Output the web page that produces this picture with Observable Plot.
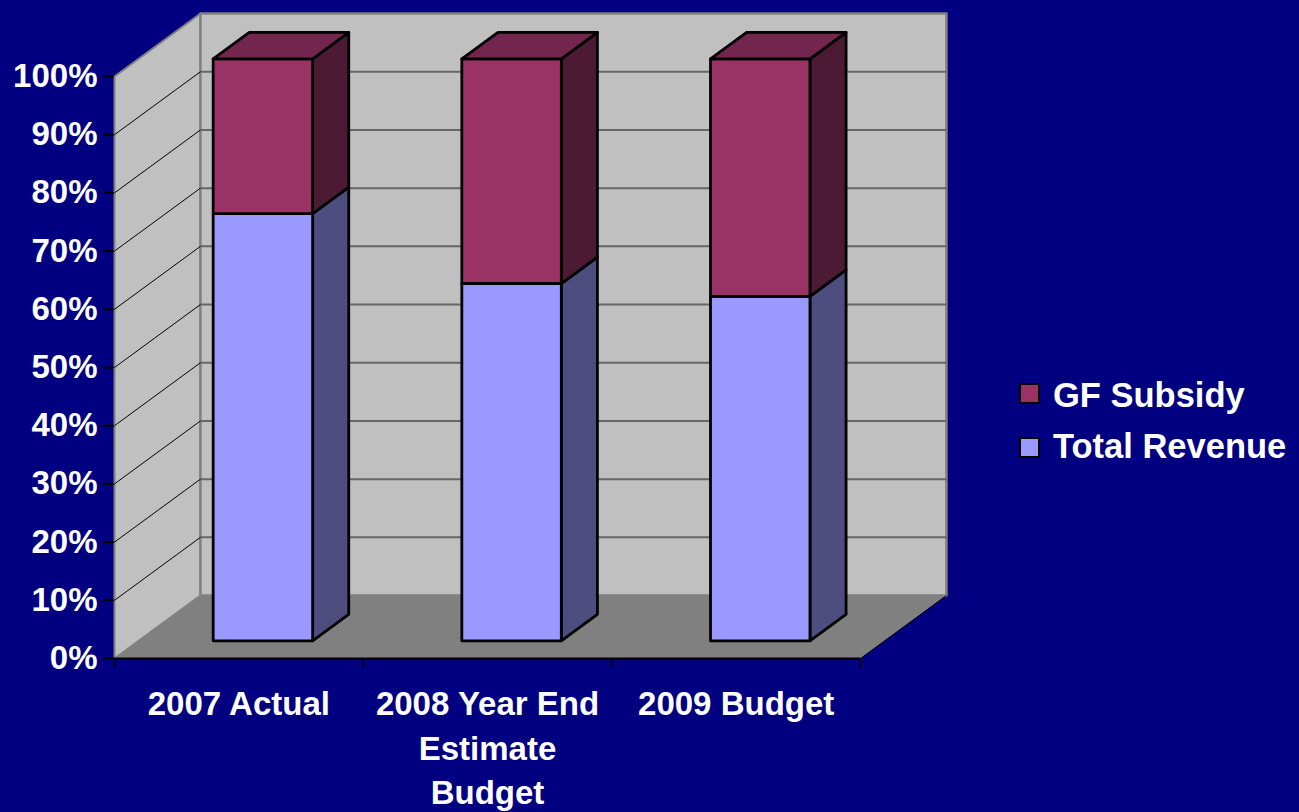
<!DOCTYPE html>
<html>
<head>
<meta charset="utf-8">
<script src="https://cdn.jsdelivr.net/npm/d3@7"></script>
<script src="https://cdn.jsdelivr.net/npm/@observablehq/plot@0.6"></script>
<style>
  html, body { margin: 0; padding: 0; background: #000080; }
  #wrap { position: relative; width: 1299px; height: 812px; overflow: hidden; background: #000080; font-family: "Liberation Sans", Arial, sans-serif; font-weight: bold; }
  .sw { position: absolute; width: 17px; height: 17px; border: 2px solid #000; }
  .lt { position: absolute; color: #fff; font-size: 34.5px; line-height: 33px; white-space: nowrap; }
</style>
</head>
<body>
<div id="wrap"></div>
<script>
// ---- data ----
const categories = ["2007 Actual", "2008 Year End Estimate Budget", "2009 Budget"];
const categoryLabels = ["2007 Actual", "2008 Year End\nEstimate\nBudget", "2009 Budget"];
const totalRevenue = [73.4, 61.4, 59.2];
const gfSubsidy = [26.6, 38.6, 40.8];
const yTicks = [0, 10, 20, 30, 40, 50, 60, 70, 80, 90, 100];
const seriesNames = ["GF Subsidy", "Total Revenue"];

// ---- styles / pseudo-3D geometry (in scale units) ----
const DX = 0.3457;   // depth shift along x (category units)
const DY = 10.82;    // depth shift along y (percent units)
const BAR_X0 = 0.3, BAR_X1 = 0.7;   // bar extent inside slot
const D_FRONT = 0.28, D_BACK = 0.70;  // bar depth range
const colors = {
  "Total Revenue": {front: "#9999FF", side: "#4D4D80", top: "#7A7ABF"},
  "GF Subsidy": {front: "#993366", side: "#4D1A33", top: "#73264D"}
};
const FONT = "Liberation Sans, Arial, sans-serif";

const P = (x, y, d) => ({x: x + d * DX, y: y + d * DY});
const poly = (pts, fill, stroke, sw) =>
  Plot.line(pts, {x: "x", y: "y", curve: "linear-closed", fill, stroke: stroke || "none", strokeWidth: sw || 1, strokeLinejoin: "round"});

const marks = [];
// floor
marks.push(poly([P(0,0,0), P(3,0,0), P(3,0,1), P(0,0,1)], "#808080", "none"));
// left wall
marks.push(poly([P(0,0,0), P(0,0,1), P(0,100,1), P(0,100,0)], "#C0C0C0", "#808080", 2));
// back wall
marks.push(poly([P(0,0,1), P(3,0,1), P(3,100,1), P(0,100,1)], "#C0C0C0", "#808080", 2.5));
// gridlines
const inner = yTicks.filter(t => t > 0 && t < 100);
marks.push(Plot.link(inner, {x1: () => 0 + DX, x2: () => 3 + DX, y1: t => t + DY, y2: t => t + DY, stroke: "#666666", strokeWidth: 2}));
marks.push(Plot.link(inner, {x1: () => 0, x2: () => DX, y1: t => t, y2: t => t + DY, stroke: "#000", strokeWidth: 1}));
// floor right edge
marks.push(Plot.link([0], {x1: () => 3, x2: () => 3 + DX, y1: () => 0, y2: () => DY, stroke: "#000", strokeWidth: 1}));

// bars
categories.forEach((c, i) => {
  const x0 = i + BAR_X0, x1 = i + BAR_X1;
  const segs = [
    {name: "Total Revenue", y0: 0, y1: totalRevenue[i]},
    {name: "GF Subsidy", y0: totalRevenue[i], y1: totalRevenue[i] + gfSubsidy[i]}
  ];
  segs.forEach((s, k) => {
    const col = colors[s.name];
    marks.push(poly([P(x1, s.y0, D_FRONT), P(x1, s.y0, D_BACK), P(x1, s.y1, D_BACK), P(x1, s.y1, D_FRONT)], col.side, "#000", 2.8));
    marks.push(poly([P(x0, s.y0, D_FRONT), P(x1, s.y0, D_FRONT), P(x1, s.y1, D_FRONT), P(x0, s.y1, D_FRONT)], col.front, "#000", 2.8));
    if (k === segs.length - 1) {
      marks.push(poly([P(x0, s.y1, D_FRONT), P(x1, s.y1, D_FRONT), P(x1, s.y1, D_BACK), P(x0, s.y1, D_BACK)], col.top, "#000", 2.8));
    }
  });
});

// axes
marks.push(Plot.ruleY([0], {x1: 0, x2: 3, stroke: "#000", strokeWidth: 2}));
marks.push(Plot.axisY({ticks: yTicks, tickFormat: d => d + "%", tickSize: 11, tickPadding: 6,
  stroke: "#000", fill: "#fff", strokeWidth: 2, fontSize: 33, fontWeight: "bold", label: null}));
marks.push(Plot.axisX({ticks: [0, 1, 2, 3], tickFormat: () => "", tickSize: 10, stroke: "#000", strokeWidth: 1.5, label: null}));
marks.push(Plot.text(categoryLabels, {x: (d, i) => i + 0.5, y: () => 0, text: d => d, dy: 25, lineAnchor: "top",
  lineHeight: 1.35, fill: "#fff", fontSize: 33, fontWeight: "bold", textAnchor: "middle"}));

const chart = Plot.plot({
  width: 1299,
  height: 812,
  marginLeft: 114,
  marginRight: 439,
  marginTop: 76,
  marginBottom: 154,
  x: {type: "linear", domain: [0, 3]},
  y: {type: "linear", domain: [0, 100]},
  style: {background: "#000080", color: "#fff", fontFamily: FONT, fontSize: "33px", fontWeight: "bold", overflow: "visible"},
  marks
});

const wrap = document.getElementById("wrap");
wrap.appendChild(chart);

// legend (right side)
const legendItems = [
  {name: seriesNames[0], color: colors[seriesNames[0]].front, sqTop: 383, baseline: 407},
  {name: seriesNames[1], color: colors[seriesNames[1]].front, sqTop: 437, baseline: 458}
];
legendItems.forEach(it => {
  const sq = document.createElement("div");
  sq.className = "sw";
  sq.style.left = "1019px";
  sq.style.top = it.sqTop + "px";
  sq.style.background = it.color;
  wrap.appendChild(sq);
  const t = document.createElement("div");
  t.className = "lt";
  t.style.left = "1053px";
  t.style.top = (it.baseline - 28) + "px";
  t.textContent = it.name;
  wrap.appendChild(t);
});
</script>
</body>
</html>
